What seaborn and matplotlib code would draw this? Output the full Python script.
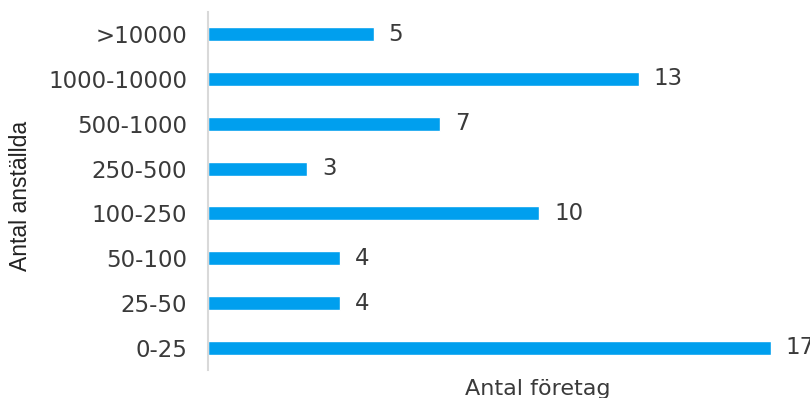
import matplotlib
matplotlib.use("Agg")
import matplotlib.pyplot as plt
import seaborn as sns
import pandas as pd

categories = [">10000", "1000-10000", "500-1000", "250-500", "100-250", "50-100", "25-50", "0-25"]
values = [5, 13, 7, 3, 10, 4, 4, 17]
x_label = "Antal företag"
y_label = "Antal anställda"

sns.set_theme(style="white")
plt.rcParams["font.family"] = ["DejaVu Sans"]

df = pd.DataFrame({"cat": categories, "val": values})

txt = "#3a3a3a"
fig = plt.figure(figsize=(8.1, 3.98), dpi=100)
ax = fig.add_axes([208/810, 1-370.4/398, (771-208)/810, (370.4-11.6)/398])
sns.barplot(data=df, y="cat", x="val", orient="h", color="#009FEE", saturation=1,
            width=0.31, ax=ax)
ax.set_xlim(0, 17)
ax.set_ylim(7.5, -0.5)
for s in ["top", "right", "bottom"]:
    ax.spines[s].set_visible(False)
ax.spines["left"].set_color("#D9D9D9")
ax.spines["left"].set_linewidth(1.5)
ax.set_xticks([])
ax.tick_params(axis="y", length=0, pad=15, labelsize=16.5, labelcolor=txt)

for i, v in enumerate(values):
    ax.text(v + 0.45, i, str(v), va="center", ha="left", fontsize=16.5, color=txt)

ax.set_xlabel("")
ax.set_ylabel("")
fig.text(538/810, 1-389/398, x_label, ha="center", va="center", fontsize=16,
         color=txt)
fig.text(21/810, 1-196/398, y_label, ha="center", va="center", rotation=90,
         fontsize=16.5, color="#222222", family=["Liberation Sans", "DejaVu Sans"])

fig.savefig("out.png", dpi=100)
